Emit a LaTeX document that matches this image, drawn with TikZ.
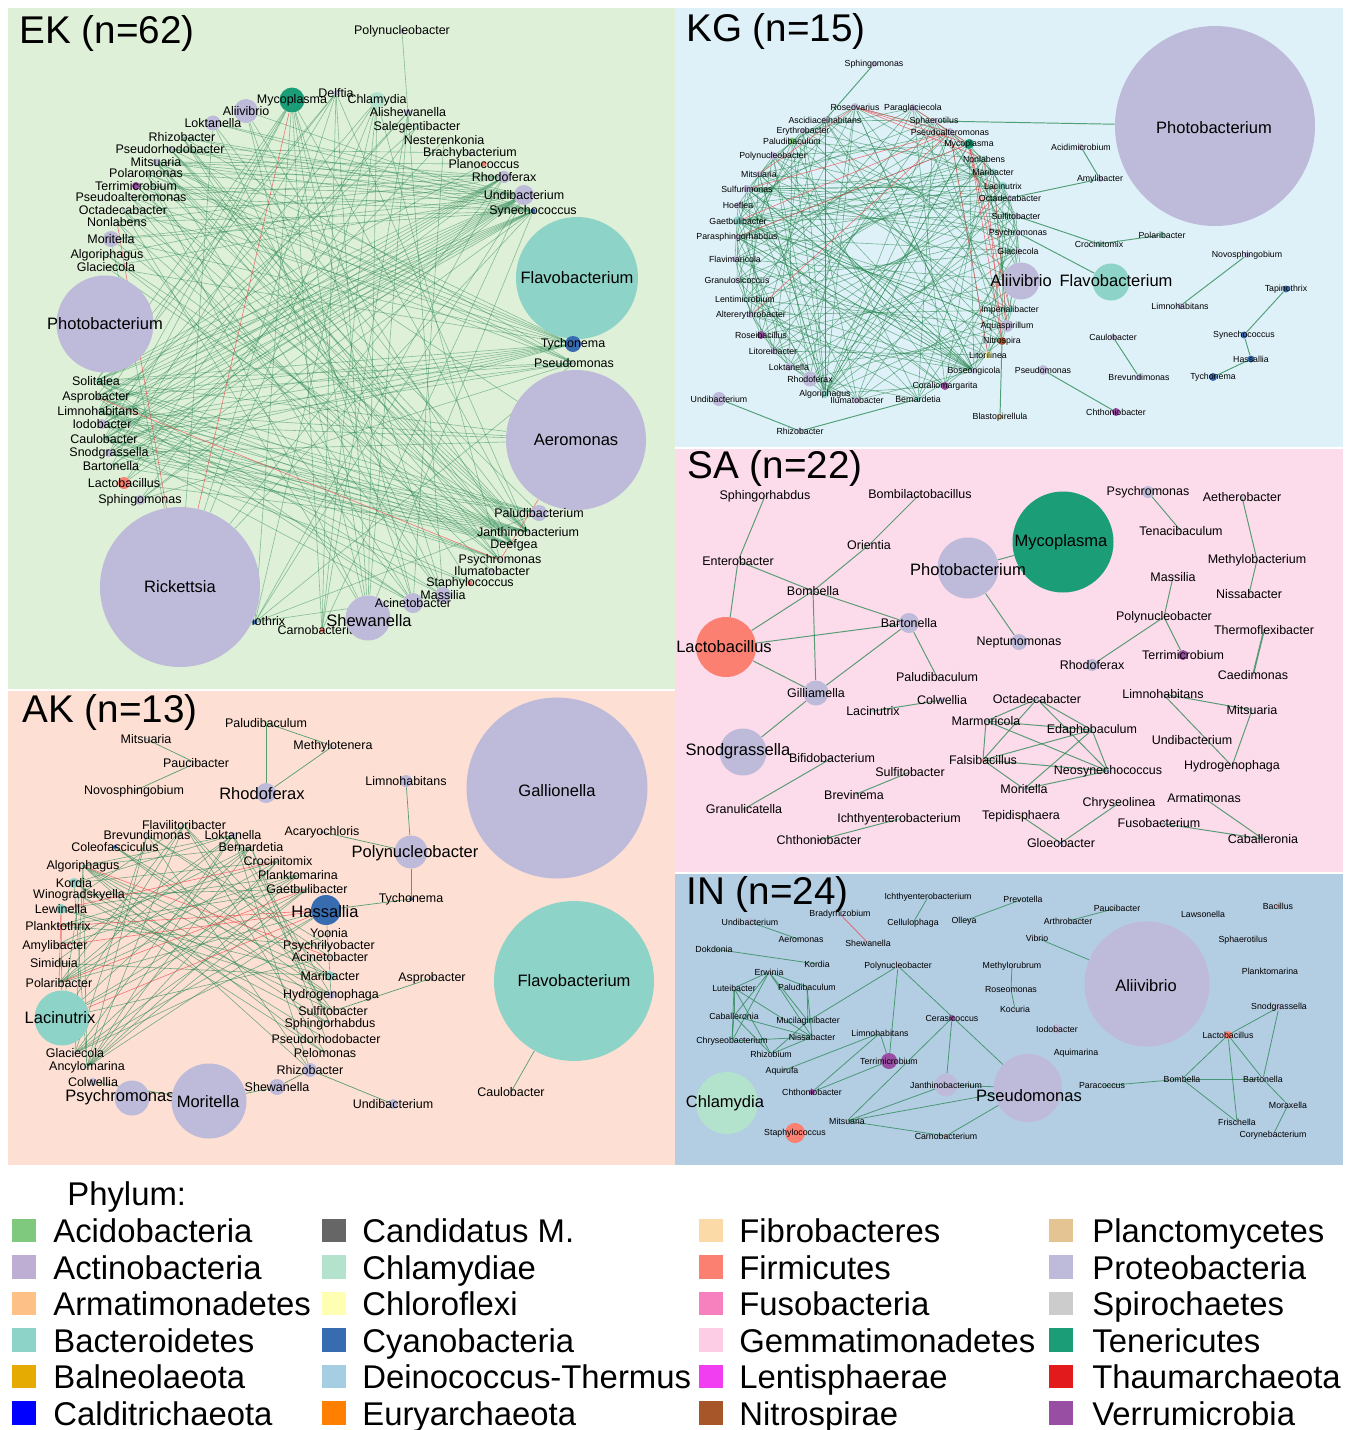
\documentclass[tikz,border=0pt]{standalone}
\usepackage{fontspec}
\setmainfont{Liberation Sans}
\usetikzlibrary{positioning}

% phylum colours
\definecolor{aci}{HTML}{7FC97F}
\definecolor{act}{HTML}{BEAED4}
\definecolor{arm}{HTML}{FDC086}
\definecolor{bac}{HTML}{8DD3C7}
\definecolor{bal}{HTML}{E6AB02}
\definecolor{cal}{HTML}{0000FF}
\definecolor{can}{HTML}{666666}
\definecolor{chl}{HTML}{B3E2CD}
\definecolor{chf}{HTML}{FFFFB3}
\definecolor{cya}{HTML}{386CB0}
\definecolor{dei}{HTML}{A6CEE3}
\definecolor{eur}{HTML}{FF7F00}
\definecolor{fib}{HTML}{FBDAA8}
\definecolor{fir}{HTML}{FB8072}
\definecolor{fus}{HTML}{F781BF}
\definecolor{gem}{HTML}{FCCDE5}
\definecolor{len}{HTML}{F03EF0}
\definecolor{nit}{HTML}{A65628}
\definecolor{pla}{HTML}{E5C494}
\definecolor{pro}{HTML}{BEBADA}
\definecolor{spi}{HTML}{CCCCCC}
\definecolor{ten}{HTML}{1B9E77}
\definecolor{tha}{HTML}{E31A1C}
\definecolor{ver}{HTML}{984EA3}
% panels and links
\definecolor{bgEK}{HTML}{DFF0D8}
\definecolor{bgKG}{HTML}{DFF1F8}
\definecolor{bgSA}{HTML}{FCDBEA}
\definecolor{bgAK}{HTML}{FDE0D3}
\definecolor{bgIN}{HTML}{B3CDE3}
\definecolor{lnkgreen}{HTML}{2E8B57}
\definecolor{lnkred}{HTML}{F0454A}

\pgfdeclarelayer{bg}
\pgfdeclarelayer{edge}
\pgfsetlayers{bg,edge,main}

\begin{document}
\begin{tikzpicture}[x=0.2mm, y=-0.2mm,
  bug/.style={circle, inner sep=0pt, minimum size=#1*0.2mm},
  fsm/.style={font=\fontsize{7.1}{8}\selectfont, inner sep=0pt},
  ftn/.style={font=\fontsize{5}{6}\selectfont, inner sep=0pt},
  fbg/.style={font=\fontsize{9.4}{11}\selectfont, inner sep=0pt},
  ttl/.style={font=\fontsize{22}{24}\selectfont, inner sep=0pt, anchor=base west},
  leg/.style={font=\fontsize{18.7}{21}\selectfont, inner sep=0pt, anchor=base west},
  sq/.style={minimum size=4.7mm, inner sep=0pt},
  lnk/.style={draw=lnkgreen, line width=0.35pt, opacity=0.5},
  neg/.style={draw=lnkred, line width=0.35pt, opacity=0.7},
  lnkd/.style={draw=lnkgreen, line width=0.55pt, opacity=0.8}]

\useasboundingbox (0,0) rectangle (1349,1430);
\begin{pgfonlayer}{bg}
  \fill[white] (0,0) rectangle (1349,1430);
  \fill[bgEK] (8,8) rectangle (675,689);
  \fill[bgKG] (675,8) rectangle (1343,447);
  \fill[bgSA] (675,449) rectangle (1343,872);
  \fill[bgAK] (8,691) rectangle (675,1165);
  \fill[bgIN] (675,874) rectangle (1343,1165);
\end{pgfonlayer}

\node[ttl] (tEK) at (19,43) {EK (n=62)};
\node[ttl] (tKG) at (686,41) {KG (n=15)};
\node[ttl] (tSA) at (687,478) {SA (n=22)};
\node[ttl] (tAK) at (22,722) {AK (n=13)};
\node[ttl] (tIN) at (686,904) {IN (n=24)};

%% EK
\foreach \n/\x/\y/\d/\c/\t in {ePhot/105/324/97/pro/Photobacterium, eFlav/577/278/122/bac/Flavobacterium, eAero/576/440/140/pro/Aeromonas}{
  \node[bug=\d, fill=\c] (\n) at (\x,\y) {};
  \node[fbg] at (\n) {\t};
}
\foreach \n/\x/\y/\d/\c/\t in {
  eMyco/292/100/25/ten/Mycoplasma, eDelf/336/93/5/pro/Delftia, eAlii/246/111/24/pro/Aliivibrio,
  eLokt/213/123/15/pro/Loktanella, eRhiz/182/137/3/pro/Rhizobacter, ePsrh/170/149/5/pro/Pseudorhodobacter,
  eMits/156/162/7/pro/Mitsuaria, ePola/146/173/3/pro/Polaromonas, eTerr/136/186/8/ver/Terrimicrobium,
  ePsal/131/197/3/pro/Pseudoalteromonas, eOcta/123/210/3/pro/Octadecabacter, eNonl/117/222/3/bac/Nonlabens,
  eMori/111/239/16/pro/Moritella, eAlgo/107/255/3/bac/Algoriphagus, eGlac/106/267/3/pro/Glaciecola,
  ePoly/402/31/5/pro/Polynucleobacter, eChla/377/100/16/chl/Chlamydia, eAlis/408/112/6/pro/Alishewanella,
  eSale/417/127/3/bac/Salegentibacter, eNest/444/140/3/act/Nesterenkonia, eBrac/470/153/4/act/Brachybacterium,
  ePlan/484/164/5/fir/Planococcus, eRhod/504/177/12/pro/Rhodoferax, eUndi/524/195/20/pro/Undibacterium,
  eSyne/533/211/5/cya/Synechococcus, eTych/573/344/16/cya/Tychonema, ePseu/574/363/3/pro/Pseudomonas,
  ePalu/539/513/16/pro/Paludibacterium, eJant/528/532/3/pro/Janthinobacterium, eDeef/514/545/3/pro/Deefgea,
  ePsyc/500/560/3/pro/Psychromonas, eIlum/492/571/4/act/Ilumatobacter, eStap/470/583/5/fir/Staphylococcus,
  eSoli/96/381/3/bac/Solitalea, eAspr/96/397/3/pro/Asprobacter, eLimn/98/411/3/pro/Limnohabitans,
  eIodo/102/424/10/pro/Iodobacter, eCaul/104/439/3/pro/Caulobacter, eSnod/109/453/8/pro/Snodgrassella,
  eBart/111/466/3/pro/Bartonella, eLact/124/483/12/fir/Lactobacillus, eSphi/140/500/10/pro/Sphingomonas,
  eTapi/255/622/5/cya/Tapinothrix, eCarn/322/630/5/fir/Carnobacterium}{
  \node[bug=\d, fill=\c] (\n) at (\x,\y) {};
  \node[fsm] at (\n) {\t};
}
\node[bug=160, fill=pro] (eRick) at (180,587) {};
\node[fbg] at (eRick) {Rickettsia};
\node[bug=45, fill=pro] (eShew) at (368,618) {};
\node[fbg] at (369,621) {Shewanella};
\foreach \n/\x/\y/\d/\c/\t in {eMass/443/595/16/pro/Massilia, eAcin/413/603/20/pro/Acinetobacter}{
  \node[bug=\d, fill=\c] (\n) at (\x,\y) {};
  \node[fsm] at (\n) {\t};
}

%% KG
\foreach \n/\x/\y/\d/\c/\f/\t [count=\i] in {
  kRose/855/107/8/pro/5/Roseovarius, kPara/913/108/8/pro/5/Paraglaciecola, kSpha/934/121/6/pro/5/Sphaerotilus,
  kPsal/950/132/8/pro/5/Pseudoalteromonas, kMyco/969/144/10/ten/5/Mycoplasma, kNonl/984/159/7/bac/5/Nonlabens,
  kMari/993/172/7/bac/5/Maribacter, kLaci/1003/186/8/bac/5/Lacinutrix, kOcta/1010/198/6/pro/5/Octadecabacter,
  kSulf/1016/216/6/pro/5/Sulfitobacter, kPsyc/1018/233/6/pro/5/Psychromonas, kGlac/1018/251/6/pro/5/Glaciecola,
  kAlii/1021/281/37/pro/9.4/Aliivibrio, kImpe/1010/310/6/bac/5/Imperialibacter, kAqua/1007/326/12/pro/5/Aquaspirillum,
  kNitr/1002/341/8/nit/5/Nitrospira, kLitl/988/355/8/chf/5/Litorilinea, kBose/974/371/6/pro/5/Boseongicola,
  kCora/945/386/8/ver/5/Coraliomargarita, kBern/918/399/6/bac/5/Bernardetia, kIlum/857/400/6/act/5/Ilumatobacter,
  kAlgo/825/394/8/bac/5/Algoriphagus, kRhod/810/379/15/pro/5/Rhodoferax, kLokt/789/367/8/pro/5/Loktanella,
  kLito/773/351/6/pro/5/Litoreibacter, kRosb/761/335/8/ver/5/Roseibacillus, kAlte/751/315/6/pro/5/Altererythrobacter,
  kLent/745/299/6/bac/5/Lentimicrobium, kGran/737/280/6/pro/5/Granulosicoccus, kFlvm/735/259/6/pro/5/Flavimaricola,
  kPars/737/237/6/pro/5/Parasphingorhabdus, kGaet/738/221/10/bac/5/Gaetbulibacter, kHoef/738/205/6/pro/5/Hoeflea,
  kSulu/747/189/8/pro/5/Sulfurimonas, kMits/759/174/6/pro/5/Mitsuaria, kPoly/773/156/8/pro/5/Polynucleobacter,
  kPalu/792/141/7/aci/5/Paludibaculum, kEryt/803/131/6/pro/5/Erythrobacter, kAsci/825/120/6/pro/5/Ascidiaceihabitans}{
  \node[bug=\d, fill=\c, alias=kr\i] (\n) at (\x,\y) {};
  \node[inner sep=0pt, font=\fontsize{\f}{\f}\selectfont] at (\n) {\t};
}
\foreach \n/\x/\y/\d/\c/\t in {
  kSphi/874/64/6/pro/Sphingomonas, kUndi/719/399/14/pro/Undibacterium, kRhiz/800/431/6/pro/Rhizobacter,
  kBlas/1000/417/6/pla/Blastopirellula, kAcid/1081/147/6/act/Acidimicrobium, kAmyl/1100/179/6/pro/Amylibacter,
  kCroc/1099/244/6/bac/Crocinitomix, kPola/1162/235/6/bac/Polaribacter, kNovo/1247/255/6/pro/Novosphingobium,
  kTapi/1286/289/7/cya/Tapinothrix, kLimn/1180/306/6/pro/Limnohabitans, kSyne/1244/335/7/cya/Synechococcus,
  kCaul/1113/337/6/pro/Caulobacter, kHass/1251/359/7/cya/Hassallia, kTych/1213/377/8/cya/Tychonema,
  kBrev/1139/377/6/pro/Brevundimonas, kPseu/1043/370/10/pro/Pseudomonas, kChth/1116/412/8/ver/Chthoniobacter}{
  \node[bug=\d, fill=\c] (\n) at (\x,\y) {};
  \node[ftn] at (\n) {\t};
}
\node[bug=200, fill=pro] (kPhot) at (1215,126) {};
\node[fbg] at (1214,128) {Photobacterium};
\node[bug=37, fill=bac] (kFlab) at (1111,282) {};
\node[fbg] at (1116,281) {Flavobacterium};

%% SA
\node[bug=101, fill=ten] (sMyco) at (1063,542) {};
\node[fbg] at (1061,542) {Mycoplasma};
\foreach \n/\x/\y/\d/\c/\lx/\ly/\t in {sPhot/968/568/61/pro/968/570/Photobacterium, sLact/726/647/60/fir/724/647/Lactobacillus, sSnod/743/752/47/pro/738/751/Snodgrassella}{
  \node[bug=\d, fill=\c] (\n) at (\x,\y) {};
  \node[fbg] at (\lx,\ly) {\t};
}
\foreach \n/\x/\y/\d/\c/\t in {
  sSphi/765/496/3/pro/Sphingorhabdus, sBomi/920/494/3/fir/Bombilactobacillus, sOrie/869/545/3/pro/Orientia,
  sEnte/738/561/3/pro/Enterobacter, sBomb/813/591/3/pro/Bombella, sBart/909/623/20/pro/Bartonella,
  sNept/1019/642/16/pro/Neptunomonas, sPalu/937/677/3/aci/Paludibaculum, sGill/816/693/25/pro/Gilliamella,
  sColw/942/700/5/pro/Colwellia, sLaci/873/711/3/bac/Lacinutrix, sMarm/986/721/3/act/Marmoricola,
  sBifi/832/758/3/act/Bifidobacterium, sFals/983/760/3/fir/Falsibacillus, sSulf/910/772/3/pro/Sulfitobacter,
  sBrev/854/795/3/spi/Brevinema, sGran/744/809/3/fir/Granulicatella, sIcht/899/819/3/bac/Ichthyenterobacterium,
  sChth/819/840/3/ver/Chthoniobacter, sTepi/1021/816/3/pla/Tepidisphaera, sPsyc/1148/492/12/pro/Psychromonas,
  sAeth/1242/497/3/pro/Aetherobacter, sTena/1181/531/3/bac/Tenacibaculum, sMeth/1257/560/3/pro/Methylobacterium,
  sMass/1173/577/3/pro/Massilia, sNiss/1249/594/3/pro/Nissabacter, sPoly/1164/617/3/pro/Polynucleobacter,
  sTher/1264/630/3/bac/Thermoflexibacter, sTerr/1183/655/10/ver/Terrimicrobium, sRhod/1092/665/12/pro/Rhodoferax,
  sCaed/1253/675/3/pro/Caedimonas, sOcta/1037/699/3/pro/Octadecabacter, sLimn/1163/694/3/pro/Limnohabitans,
  sMits/1252/710/3/pro/Mitsuaria, sEdap/1092/730/3/bac/Edaphobaculum, sUndi/1192/740/3/pro/Undibacterium,
  sNeos/1108/771/3/cya/Neosynechococcus, sHydr/1232/766/3/pro/Hydrogenophaga, sMori/1024/789/3/pro/Moritella,
  sArma/1204/798/3/arm/Armatimonas, sChry/1119/803/3/bac/Chryseolinea, sFuso/1159/823/3/fus/Fusobacterium,
  sCaba/1263/839/3/pro/Caballeronia, sGloe/1061/843/3/cya/Gloeobacter}{
  \node[bug=\d, fill=\c] (\n) at (\x,\y) {};
  \node[fsm] at (\n) {\t};
}

%% AK
\foreach \n/\x/\y/\d/\c/\lx/\ly/\t in {aGall/557/788/181/pro/557/791/Gallionella, aFlab/574/981/160/bac/574/981/Flavobacterium}{
  \node[bug=\d, fill=\c] (\n) at (\x,\y) {};
  \node[fbg] at (\lx,\ly) {\t};
}
\foreach \n/\x/\y/\d/\c/\t in {
  aPalu/266/723/3/aci/Paludibaculum, aMits/146/739/3/pro/Mitsuaria, aMeth/333/746/3/pro/Methylotenera,
  aPauc/196/763/3/pro/Paucibacter, aNovo/134/791/3/pro/Novosphingobium, aLimn/406/781/12/pro/Limnohabitans,
  aAcar/322/832/3/cya/Acaryochloris, aFlav/184/825/3/bac/Flavilitoribacter, aBrev/147/835/3/pro/Brevundimonas,
  aLokt/233/835/5/pro/Loktanella, aCole/115/847/4/cya/Coleofasciculus, aBern/251/847/3/bac/Bernardetia,
  aCroc/278/861/3/bac/Crocinitomix, aAlgo/83/866/3/bac/Algoriphagus, aPlak/298/875/3/pro/Planktomarina,
  aKord/74/883/10/bac/Kordia, aGaet/307/889/3/bac/Gaetbulibacter, aWino/79/895/3/bac/Winogradskyella,
  aLewi/61/909/10/bac/Lewinella, aPlat/58/926/3/cya/Planktothrix, aAmyl/55/946/3/pro/Amylibacter,
  aSimi/54/963/3/pro/Simiduia, aPola/59/983/3/bac/Polaribacter, aTych/411/899/4/cya/Tychonema,
  aYoon/329/933/3/pro/Yoonia, aPsyl/329/946/3/fus/Psychrilyobacter, aAcin/330/957/3/pro/Acinetobacter,
  aMari/330/976/10/bac/Maribacter, aAspr/432/978/4/pro/Asprobacter, aHydr/331/995/8/pro/Hydrogenophaga,
  aSulf/333/1011/3/pro/Sulfitobacter, aSphr/330/1024/3/pro/Sphingorhabdus, aPsrh/326/1039/3/pro/Pseudorhodobacter,
  aGlac/75/1053/3/pro/Glaciecola, aPelo/325/1053/3/pro/Pelomonas, aAncy/87/1067/3/bac/Ancylomarina,
  aRhiz/310/1070/14/pro/Rhizobacter, aColw/93/1082/8/pro/Colwellia, aShew/277/1087/16/pro/Shewanella,
  aCaul/511/1092/3/pro/Caulobacter, aUndi/393/1104/10/pro/Undibacterium}{
  \node[bug=\d, fill=\c] (\n) at (\x,\y) {};
  \node[fsm] at (\n) {\t};
}
\foreach \n/\x/\y/\d/\c/\lx/\ly/\t in {aRhod/266/793/20/pro/262/794/Rhodoferax, aPoly/411/852/33/pro/415/853/Polynucleobacter,
  aHass/326/910/30/cya/325/912/Hassallia, aLaci/62/1018/55/bac/60/1018/Lacinutrix,
  aPsyc/132/1098/35/pro/120/1097/Psychromonas, aMori/209/1101/75/pro/208/1102/Moritella}{
  \node[bug=\d, fill=\c] (\n) at (\x,\y) {};
  \node[fbg] at (\lx,\ly) {\t};
}

%% IN
\foreach \n/\x/\y/\d/\c/\lx/\ly/\t in {iChla/727/1103/62/chl/725/1103/Chlamydia, iAlii/1147/984/125/pro/1146/986/Aliivibrio, iPseu/1028/1088/68/pro/1029/1096/Pseudomonas}{
  \node[bug=\d, fill=\c] (\n) at (\x,\y) {};
  \node[fbg] at (\lx,\ly) {\t};
}
\foreach \n/\x/\y/\d/\c/\t in {
  iIcht/928/897/3/bac/Ichthyenterobacterium, iBrad/840/914/3/pro/Bradyrhizobium, iUndi/750/922/8/pro/Undibacterium,
  iCell/913/923/3/bac/Cellulophaga, iOlle/964/921/3/bac/Olleya, iAero/801/940/3/pro/Aeromonas,
  iShew/868/943/3/pro/Shewanella, iDokd/714/949/3/bac/Dokdonia, iKord/817/964/3/bac/Kordia,
  iPoly/898/966/6/pro/Polynucleobacter, iErwi/769/972/3/pro/Erwinia, iLute/734/988/3/pro/Luteibacter,
  iPalu/807/987/3/aci/Paludibaculum, iCaba/734/1016/3/pro/Caballeronia, iCera/952/1018/6/ver/Cerasicoccus,
  iMuci/808/1021/3/bac/Mucilaginibacter, iLimn/880/1033/3/pro/Limnohabitans, iNiss/812/1037/3/pro/Nissabacter,
  iChry/732/1041/3/bac/Chryseobacterium, iRhiz/771/1054/3/pro/Rhizobium, iTerr/889/1061/16/ver/Terrimicrobium,
  iAqui/782/1071/3/bac/Aquirufa, iJant/946/1085/23/pro/Janthinobacterium, iChth/812/1092/6/ver/Chthoniobacter,
  iMits/847/1121/3/pro/Mitsuaria, iStap/795/1133/20/fir/Staphylococcus, iCarn/946/1136/3/fir/Carnobacterium,
  iPrev/1023/899/3/bac/Prevotella, iPauc/1117/908/3/pro/Paucibacter, iArth/1068/921/3/act/Arthrobacter,
  iLaws/1203/914/3/act/Lawsonella, iBaci/1278/906/3/fir/Bacillus, iVibr/1037/938/3/pro/Vibrio,
  iSpha/1243/940/3/pro/Sphaerotilus, iMeth/1012/966/3/pro/Methylorubrum, iRose/1011/990/3/pro/Roseomonas,
  iKocu/1015/1009/3/act/Kocuria, iPlan/1270/971/3/pro/Planktomarina, iIodo/1057/1029/10/pro/Iodobacter,
  iSnod/1279/1007/7/pro/Snodgrassella, iLact/1228/1035/8/fir/Lactobacillus, iAqum/1076/1053/3/bac/Aquimarina,
  iBomb/1182/1079/3/pro/Bombella, iBart/1263/1079/3/pro/Bartonella, iPara/1102/1086/3/pro/Paracoccus,
  iMora/1288/1105/3/pro/Moraxella, iFris/1237/1122/3/pro/Frischella, iCory/1273/1135/3/act/Corynebacterium}{
  \node[bug=\d, fill=\c] (\n) at (\x,\y) {};
  \node[ftn] at (\n) {\t};
}

%% links
\begin{pgfonlayer}{edge}
  % EK
  \foreach \a/\bl in {
    eMits/{eRhod,eUndi,eSyne,eTych,ePseu,eJant,eDeef,ePsyc,eAero,ePlan,eMass},
    ePsrh/{eRhod,eUndi,eSyne,eTych,eJant,eDeef,eBrac,ePalu},
    eRhiz/{eUndi,eSyne,ePseu,eDeef,ePsyc,eStap},
    ePola/{eRhod,eUndi,eTych,ePseu,eJant,eAcin,eShew},
    eTerr/{eUndi,eSyne,eJant,eDeef,eTych},
    ePsal/{eRhod,eSyne,ePseu,eDeef,eMass},
    eOcta/{eUndi,eTych,eJant,eIlum,eShew},
    eNonl/{eRhod,eSyne,ePsyc,eAcin},
    eMori/{eUndi,eSyne,eTych,eDeef,eRick},
    eAlgo/{eRhod,eJant,ePsyc}, eGlac/{eUndi,eTych,eDeef},
    eLokt/{eUndi,eSyne,eJant,eRick,eMass}, eAlii/{eSyne,eDeef,eShew,eAcin},
    eMyco/{eShew,eMass,eAcin,eSoli,eLimn,eCaul,eJant,eTapi,eCarn,eSnod},
    eDelf/{eRick,eShew,eCarn,eJant,eSoli,eBart,eAspr},
    eChla/{eCarn,eShew,eTapi,eRick,eLact,eIodo,ePsyc},
    eAlis/{eShew,eCarn,eCaul,eSnod}, eSale/{eSphi,eLimn}, eNest/{eLact,eAcin}, ePoly/{eMass},
    eRhod/{eSoli,eAspr,eLimn,eIodo,eCaul,eBart,eRick,eTapi},
    eUndi/{eSoli,eAspr,eLimn,eIodo,eCaul,eSnod,eBart,eLact,eSphi,eTapi,eCarn},
    eSyne/{eSoli,eAspr,eLimn,eIodo,eCaul,eSnod,eSphi,eRick,eShew},
    ePlan/{eSoli}, eTych/{eSoli,eAspr,eLimn,eIodo,eCaul,eBart,eSnod},
    ePseu/{eSoli,eAspr,eIodo,eCaul,eSphi,eTapi},
    eJant/{eSoli,eAspr,eLimn,eIodo,eCaul,eSnod,eBart,eLact},
    eDeef/{eSoli,eAspr,eLimn,eIodo,eCaul,eSnod},
    ePsyc/{eLimn,eIodo,eCaul}, ePalu/{eSoli,eAspr,eLimn,eCaul,eSnod,eTapi},
    eAero/{eSoli,eLimn,eIodo,eSnod}, eMass/{eSoli,eIodo,eTapi},
    eAcin/{eSoli,eAspr,eCaul}, eStap/{eSnod,eLimn}}
    \foreach \b in \bl \draw[lnk] (\a) -- (\b);
  \foreach \a/\b in {eMyco/eRick, eAspr/ePsyc, eAero/ePsyc, eNonl/eRick}
    \draw[neg] (\a) -- (\b);
  % KG
  \foreach \i in {1,...,39}
    \foreach \k in {3,8,13,17}{
      \pgfmathtruncatemacro\j{mod(\i+\k-1,39)+1}
      \draw[lnk, opacity=0.6] (kr\i) -- (kr\j);
    }
  \foreach \a/\bl in {
    kAlgo/{kRose,kAsci,kEryt,kPalu,kPoly,kMits,kSulu,kPsal,kMyco,kNonl,kLaci,kGlac,kSpha},
    kBose/{kPoly,kMits,kSulu,kHoef,kGaet,kPars,kFlvm,kRose,kAsci,kLent,kAlte},
    kSulu/{kOcta,kSulf,kPsyc,kMari,kLaci,kBose},
    kGaet/{kMari,kLaci,kOcta,kAqua,kImpe}, kPars/{kNonl,kMari,kGlac,kCora}}
    \foreach \b in \bl \draw[lnk, opacity=0.6] (\a) -- (\b);
  \foreach \a/\b in {kRose/kPsal, kRose/kMyco, kRose/kNonl, kPara/kMyco, kPsal/kSulu, kPsal/kGaet,
    kMyco/kPars, kMyco/kAqua, kMyco/kImpe, kMyco/kNitr, kPsal/kAlte, kNonl/kNitr, kMari/kAqua,
    kPsal/kLitl, kRose/kMits}
    \draw[neg] (\a) -- (\b);
  \foreach \a/\b in {kSphi/kAsci, kSpha/kPhot, kAcid/kAmyl, kAmyl/kOcta, kSulf/kCroc, kCroc/kPola,
    kPsyc/kFlab, kNovo/kLimn, kTapi/kSyne, kSyne/kHass, kHass/kTych, kCaul/kBrev, kPseu/kChth,
    kUndi/kRhiz, kRhiz/kBern, kNitr/kBlas}
    \draw[lnkd] (\a) -- (\b);
  % SA
  \foreach \a/\b in {sSphi/sEnte, sEnte/sLact, sEnte/sBomb, sBomb/sBart, sBomi/sOrie, sOrie/sBomb,
    sBomb/sLact, sBomb/sGill, sLact/sBart, sLact/sGill, sGill/sBart, sGill/sSnod, sBart/sPalu,
    sPhot/sNept, sPhot/sMyco, sLaci/sColw, sBifi/sGran, sSulf/sBrev, sIcht/sChth, sPsyc/sTena,
    sAeth/sMeth, sMeth/sNiss, sMass/sPoly, sPoly/sRhod, sPoly/sTerr, sLimn/sMits, sLimn/sHydr,
    sMits/sHydr, sArma/sCaba, sFuso/sCaba, sChry/sGloe, sTepi/sGloe,
    sOcta/sMarm, sOcta/sFals, sOcta/sEdap, sOcta/sNeos, sMarm/sFals, sMarm/sEdap, sMarm/sNeos,
    sFals/sEdap, sFals/sNeos, sFals/sMori, sEdap/sNeos, sEdap/sMori, sMori/sNeos}
    \draw[lnkd] (\a) -- (\b);
  \draw[lnkd, line width=1pt] (sTher) -- (sCaed);
  % AK
  \foreach \a/\bl in {
    aAlgo/{aPelo,aSphr,aRhiz,aMari,aHydr,aLokt,aBern,aAncy,aGlac},
    aKord/{aCroc,aPsrh,aSulf,aAncy,aLokt}, aWino/{aSphr,aPelo,aGaet,aFlav,aLaci},
    aLewi/{aPlak,aHydr,aMari,aLaci}, aPlat/{aGaet,aCroc,aPsyl}, aAmyl/{aBern,aPlak},
    aSimi/{aLokt,aMari}, aPola/{aLokt,aCroc,aBern,aFlav,aPlak,aHass},
    aLaci/{aBern,aGaet,aPlak,aFlav,aAcin}, aGlac/{aLokt,aCroc,aGaet,aHass,aYoon,aBrev},
    aAncy/{aLokt,aBern,aCroc,aGaet,aPlak,aHass,aFlav,aBrev}, aCole/{aMari,aHydr,aSulf},
    aBrev/{aPsyl,aAcin,aRhiz}, aFlav/{aPelo,aMari,aSulf}, aLokt/{aHydr,aRhiz,aSphr},
    aBern/{aSphr,aPsrh}, aHass/{aMari}, aMari/{aHydr}}
    \foreach \b in \bl \draw[lnk, opacity=0.65] (\a) -- (\b);
  \foreach \a/\b in {aLewi/aPola, aLewi/aCroc, aAlgo/aAcin, aPlat/aHass, aAmyl/aHass, aLaci/aHass, aPola/aGaet}
    \draw[neg] (\a) -- (\b);
  \foreach \a/\b in {aPalu/aRhod, aMeth/aRhod, aPalu/aMeth, aMits/aPauc, aPauc/aNovo, aLimn/aPoly,
    aAcar/aPoly, aPoly/aTych, aTych/aHass, aAspr/aSulf, aFlab/aCaul, aRhiz/aUndi, aColw/aMori,
    aShew/aMori, aShew/aRhiz}
    \draw[lnkd, line width=0.4pt] (\a) -- (\b);
  % IN
  \foreach \a/\b in {iIcht/iCell, iOlle/iPrev, iUndi/iAero, iDokd/iKord, iPauc/iArth, iVibr/iAlii,
    iMeth/iRose, iRose/iKocu, iMuci/iPoly, iPoly/iTerr, iPoly/iPseu, iCera/iJant, iCera/iMits,
    iLimn/iAqui, iLimn/iTerr, iLimn/iChth, iTerr/iChth, iMits/iJant, iMits/iPseu, iMits/iCarn,
    iJant/iPseu, iCarn/iPseu, iPara/iBomb, iLact/iSnod, iLact/iBomb, iLact/iFris, iLact/iBart,
    iBomb/iBart, iBomb/iFris, iSnod/iBart, iBart/iMora, iMora/iCory,
    iErwi/iLute, iErwi/iCaba, iErwi/iChry, iErwi/iMuci, iErwi/iNiss, iErwi/iPalu,
    iLute/iChry, iLute/iNiss, iLute/iRhiz, iLute/iCaba, iCaba/iNiss, iCaba/iRhiz, iCaba/iChry,
    iPalu/iMuci, iPalu/iNiss, iChry/iNiss, iRhiz/iNiss, iRhiz/iMuci}
    \draw[lnkd, line width=0.45pt] (\a) -- (\b);
  \draw[neg, line width=0.5pt] (iBrad) -- (iShew);
\end{pgfonlayer}

%% legend
\node[leg] (lTitle) at (67,1205) {Phylum:};
\foreach \c/\t [count=\i] in {aci/Acidobacteria, act/Actinobacteria, arm/Armatimonadetes, bac/Bacteroidetes, bal/Balneolaeota, cal/Calditrichaeota}{
  \node[sq, fill=\c] (lA\i) at (24,1194+36.5*\i) {};
  \node[leg] at (53,1206+36.5*\i) {\t};
}
\foreach \c/\t [count=\i] in {can/Candidatus M., chl/Chlamydiae, chf/Chloroflexi, cya/Cyanobacteria, dei/Deinococcus-Thermus, eur/Euryarchaeota}{
  \node[sq, fill=\c] (lB\i) at (334,1194+36.5*\i) {};
  \node[leg] at (362,1206+36.5*\i) {\t};
}
\foreach \c/\t [count=\i] in {fib/Fibrobacteres, fir/Firmicutes, fus/Fusobacteria, gem/Gemmatimonadetes, len/Lentisphaerae, nit/Nitrospirae}{
  \node[sq, fill=\c] (lC\i) at (711,1194+36.5*\i) {};
  \node[leg] at (739,1206+36.5*\i) {\t};
}
\foreach \c/\t [count=\i] in {pla/Planctomycetes, pro/Proteobacteria, spi/Spirochaetes, ten/Tenericutes, tha/Thaumarchaeota, ver/Verrumicrobia}{
  \node[sq, fill=\c] (lD\i) at (1061,1194+36.5*\i) {};
  \node[leg] at (1092,1206+36.5*\i) {\t};
}
\end{tikzpicture}
\end{document}
